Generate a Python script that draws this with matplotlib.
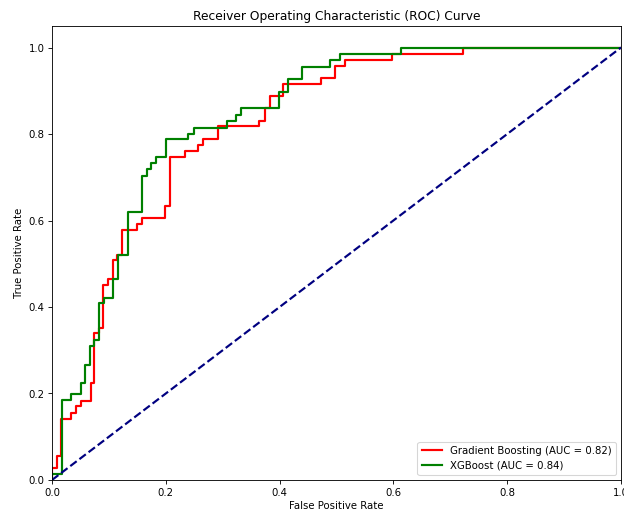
import matplotlib
matplotlib.use('Agg')
import matplotlib.pyplot as plt

# ROC points (fpr, tpr), step-post order
gb_fpr = [0.0, 0.0, 0.009, 0.016, 0.033, 0.042, 0.051, 0.069, 0.074, 0.082,
          0.090, 0.099, 0.107, 0.114, 0.123, 0.149, 0.158, 0.199, 0.207, 0.234,
          0.257, 0.265, 0.292, 0.364, 0.374, 0.383, 0.406, 0.473, 0.497, 0.515,
          0.598, 0.722, 1.0]
gb_tpr = [0.0, 0.028, 0.055, 0.141, 0.155, 0.171, 0.182, 0.224, 0.339, 0.351,
          0.450, 0.464, 0.508, 0.520, 0.577, 0.591, 0.605, 0.633, 0.746, 0.760,
          0.774, 0.788, 0.818, 0.830, 0.859, 0.887, 0.915, 0.929, 0.957, 0.970,
          0.986, 1.0, 1.0]

xgb_fpr = [0.0, 0.0, 0.017, 0.033, 0.051, 0.058, 0.067, 0.074, 0.083, 0.091,
           0.107, 0.116, 0.134, 0.158, 0.167, 0.174, 0.183, 0.200, 0.239, 0.250,
           0.308, 0.323, 0.332, 0.399, 0.415, 0.439, 0.489, 0.506, 0.613, 1.0]
xgb_tpr = [0.0, 0.015, 0.185, 0.199, 0.224, 0.266, 0.309, 0.323, 0.409, 0.420,
           0.464, 0.520, 0.619, 0.702, 0.718, 0.732, 0.746, 0.788, 0.801, 0.815,
           0.829, 0.845, 0.859, 0.898, 0.928, 0.956, 0.970, 0.986, 1.0, 1.0]

gb_auc = 0.82
xgb_auc = 0.84

fig = plt.figure(figsize=(8.0, 6.54), dpi=78)
ax = fig.add_axes([52 / 624, 30 / 510, 569 / 624, 454 / 510])

ax.step(gb_fpr, gb_tpr, where='post', color='red', lw=2,
        label=f'Gradient Boosting (AUC = {gb_auc:.2f})')
ax.step(xgb_fpr, xgb_tpr, where='post', color='green', lw=2,
        label=f'XGBoost (AUC = {xgb_auc:.2f})')
ax.plot([0, 1], [0, 1], color='navy', lw=2, linestyle='--')

ax.set_xlim([0.0, 1.0])
ax.set_ylim([0.0, 1.05])
ax.tick_params(labelsize=9.4)
ax.set_xlabel('False Positive Rate', fontsize=9.4, labelpad=3)
ax.set_ylabel('True Positive Rate', fontsize=9.4)
ax.set_title('Receiver Operating Characteristic (ROC) Curve', fontsize=11.3)
ax.legend(loc='lower right', fontsize=9.4)

fig.savefig('out.png', dpi=78)
